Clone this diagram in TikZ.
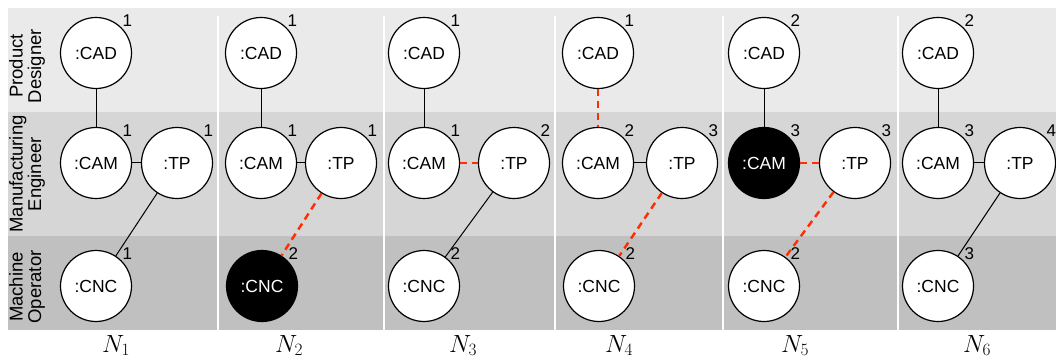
\documentclass[tikz,border=0pt]{standalone}
\usepackage[no-math]{fontspec}
\setmainfont{Liberation Sans}
\definecolor{bandA}{RGB}{234,234,234}
\definecolor{bandB}{RGB}{214,214,214}
\definecolor{bandC}{RGB}{192,192,192}
\definecolor{chgred}{RGB}{255,45,0}
\begin{document}
\begin{tikzpicture}[x=1pt, y=-1pt,
    ent/.style={circle, draw, fill=white, line width=1.2pt, minimum size=71pt, inner sep=0pt, font=\fontsize{17.5}{19}\selectfont},
    hot/.style={ent, fill=black, text=white},
    every label/.style={inner sep=1pt, font=\fontsize{17}{19}\selectfont},
    link/.style={line width=1pt},
    chg/.style={draw=chgred, line width=2.4pt, dash pattern=on 7pt off 5pt},
    role/.style={rotate=90, align=center, font=\fontsize{18.5}{18.5}\selectfont},
    net/.style={anchor=base, font=\fontsize{25}{30}\selectfont}]
    \useasboundingbox (0,0) rectangle (1056,363);
    % swimlanes
    \fill[bandA] (8,8) rectangle (1056,112);
    \fill[bandB] (8,112) rectangle (1056,236);
    \fill[bandC] (8,236) rectangle (1056,330);
    \foreach \x in {218,384,555,723,898}
      \draw[white, line width=2pt] (\x,16) -- (\x,330);
    \node[role] (pd) at (27,66) {Product\\Designer};
    \node[role] (me) at (27,174) {Manufacturing\\Engineer};
    \node[role] (mo) at (27,287) {Machine\\Operator};
    % N1
    \node[ent, label=45:1] (cad1) at (96,53) {:CAD};
    \node[ent, label=45:1] (cam1) at (96,163) {:CAM};
    \node[ent, label=45:1] (tp1) at (177,163) {:TP};
    \node[ent, label=45:1] (cnc1) at (96,286) {:CNC};
    \draw[link] (cad1) -- (cam1);
    \draw[link] (cam1) -- (tp1);
    \draw[link] (tp1) -- (cnc1);
    \node[net] (n1) at (116,352) {$N_1$};
    % N2
    \node[ent, label=45:1] (cad2) at (261,53) {:CAD};
    \node[ent, label=45:1] (cam2) at (261,163) {:CAM};
    \node[ent, label=45:1] (tp2) at (341,163) {:TP};
    \node[hot, label=45:2] (cnc2) at (262,286) {:CNC};
    \draw[link] (cad2) -- (cam2);
    \draw[link] (cam2) -- (tp2);
    \draw[chg] (tp2) -- (cnc2);
    \node[net] (n2) at (289,352) {$N_2$};
    % N3
    \node[ent, label=45:1] (cad3) at (424,53) {:CAD};
    \node[ent, label=45:1] (cam3) at (424,163) {:CAM};
    \node[ent, label=45:2] (tp3) at (514,163) {:TP};
    \node[ent, label=45:2] (cnc3) at (424,286) {:CNC};
    \draw[link] (cad3) -- (cam3);
    \draw[chg] (cam3) -- (tp3);
    \draw[link] (tp3) -- (cnc3);
    \node[net] (n3) at (463,352) {$N_3$};
    % N4
    \node[ent, label=45:1] (cad4) at (598,53) {:CAD};
    \node[ent, label=45:2] (cam4) at (598,163) {:CAM};
    \node[ent, label=45:3] (tp4) at (682,163) {:TP};
    \node[ent, label=45:2] (cnc4) at (599,286) {:CNC};
    \draw[chg] (cad4) -- (cam4);
    \draw[link] (cam4) -- (tp4);
    \draw[chg] (tp4) -- (cnc4);
    \node[net] (n4) at (619,352) {$N_4$};
    % N5
    \node[ent, label=45:2] (cad5) at (764,53) {:CAD};
    \node[hot, label=45:3] (cam5) at (764,163) {:CAM};
    \node[ent, label=45:3] (tp5) at (855,163) {:TP};
    \node[ent, label=45:2] (cnc5) at (764,286) {:CNC};
    \draw[link] (cad5) -- (cam5);
    \draw[chg] (cam5) -- (tp5);
    \draw[chg] (tp5) -- (cnc5);
    \node[net] (n5) at (795,352) {$N_5$};
    % N6
    \node[ent, label=45:2] (cad6) at (938,53) {:CAD};
    \node[ent, label=45:3] (cam6) at (938,163) {:CAM};
    \node[ent, label=45:4] (tp6) at (1020,163) {:TP};
    \node[ent, label=45:3] (cnc6) at (938,286) {:CNC};
    \draw[link] (cad6) -- (cam6);
    \draw[link] (cam6) -- (tp6);
    \draw[link] (tp6) -- (cnc6);
    \node[net] (n6) at (977,352) {$N_6$};
\end{tikzpicture}
\end{document}
